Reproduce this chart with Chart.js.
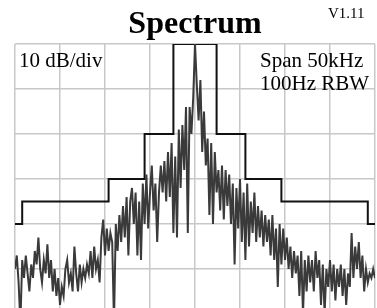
<!DOCTYPE html>
<html>
<head>
<meta charset="utf-8">
<script src="https://cdn.jsdelivr.net/npm/chart.js@4"></script>
<style>
  html, body { margin: 0; padding: 0; background: #fff; overflow: hidden; }
  #wrap { width: 377px; height: 308px; position: relative; }
</style>
</head>
<body>
<div id="wrap"><canvas id="spec"></canvas></div>
<script>
/* global Chart */
// スパン 50kHz、中心 0
const SPAN_KHZ = [-25, 25];
const LEVEL_DB = [-58.67, 0];   // 上端 0dB、下端は画面で切れる
const DB_TICKS = [0, -10, -20, -30, -40, -50];

// マスク（ステップ）
const maskKHz = [-25, -24, -12, -7, -3, 3, 7, 12, 24, 25];
const maskDb  = [-40, -35, -30, -20, 0, -20, -30, -35, -40, -40];

// トレース: -25kHz から 0.25kHz 刻み
const traceStartKHz = -25;
const traceStepKHz = 0.25;
const traceDb = [
  -50, -47, -53, -62, -48, -52, -47, -51, -55, -49,
  -52, -46, -49, -43, -50, -53, -48, -51, -44.5, -52,
  -48, -55, -50, -56, -52, -58, -54, -56, -50, -48,
  -53, -51, -55, -45, -51, -55, -49, -53, -50, -52,
  -49, -51, -46, -52, -45, -50, -48, -53, -43, -39,
  -47, -41, -46, -42, -44, -62, -40, -46, -38, -44,
  -36, -43, -34, -47, -35, -32, -40, -33, -47, -35,
  -48, -31, -40, -29, -41, -33, -27, -37, -31, -44,
  -33, -27, -33, -26, -35, -24, -34, -22, -42, -25,
  -43, -19, -32, -18, -28, -14, -42, -14, -20, -12,
  0, -9, -17, -8, -24, -15, -27, -21, -38, -22,
  -40, -24, -33, -28, -37, -27, -39, -28, -36, -29,
  -40, -31, -49, -32, -41, -30, -44, -33, -48, -31,
  -45, -35, -42, -33, -44, -36, -43, -37, -45, -38,
  -44, -39, -47, -38, -48, -41, -54, -40, -49, -41,
  -48, -43, -50, -45, -52, -46, -51, -47, -56, -46,
  -60, -48, -55, -47, -53, -48, -55, -46, -52, -48,
  -58, -49, -60, -50, -54, -48, -55, -49, -57, -50,
  -54, -49, -56, -50, -58, -51, -54, -42, -52, -45,
  -50, -44, -52, -47, -55, -50, -53, -51, -52, -50,
  -52
];

const SERIF = '"Liberation Serif", "DejaVu Serif", serif';

const labelsPlugin = {
  id: "labels",
  afterDraw(chart) {
    const c = chart.ctx;
    c.save();
    c.fillStyle = "#000";
    c.textBaseline = "alphabetic";
    c.textAlign = "center";
    c.font = `bold 32px ${SERIF}`;
    c.fillText("Spectrum", 195, 33);
    c.textAlign = "left";
    c.font = `15px ${SERIF}`;
    c.fillText("V1.11", 328, 18);
    c.font = `21px ${SERIF}`;
    c.fillText("10 dB/div", 19, 67);
    c.fillText("Span 50kHz", 260, 67);
    c.fillText("100Hz RBW", 260, 90);
    c.restore();
  }
};

const $ = (id) => document.getElementById(id);

document.addEventListener("DOMContentLoaded", () => {
  const mask = maskKHz.map((f, i) => ({ x: f, y: maskDb[i] }));
  const trace = traceDb.map((v, i) => ({ x: traceStartKHz + i * traceStepKHz, y: v }));

  new Chart($("spec").getContext("2d"), {
    type: "line",
    data: {
      datasets: [
        { data: trace, borderColor: "#3a3a3a", borderWidth: 2, pointRadius: 0, tension: 0 },
        { data: mask, borderColor: "#111", borderWidth: 2, pointRadius: 0, stepped: true }
      ]
    },
    options: {
      responsive: true, maintainAspectRatio: false, animation: false,
      devicePixelRatio: 1,
      layout: { padding: { left: 15, right: 2, top: 44, bottom: 0 } },
      plugins: { legend: { display: false }, tooltip: { enabled: false }, title: { display: false } },
      scales: {
        x: {
          type: "linear", min: SPAN_KHZ[0], max: SPAN_KHZ[1],
          ticks: { display: false, stepSize: 6.25 },
          grid: { color: "#c8c8c8", lineWidth: 1.5, drawTicks: false },
          border: { display: false }
        },
        y: {
          type: "linear", min: LEVEL_DB[0], max: LEVEL_DB[1],
          afterBuildTicks: (s) => { s.ticks = DB_TICKS.map(v => ({ value: v })); },
          ticks: { display: false },
          grid: { color: "#c8c8c8", lineWidth: 1.5, drawTicks: false },
          border: { display: false }
        }
      }
    },
    plugins: [labelsPlugin]
  });
});
</script>
</body>
</html>
